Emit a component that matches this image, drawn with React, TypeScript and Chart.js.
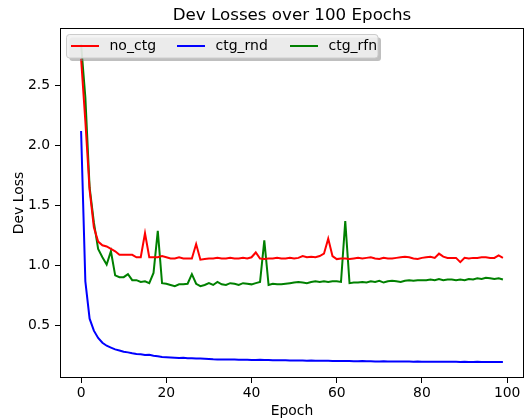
import React, { useEffect, useRef } from "react";
import { Chart, registerables } from "chart.js";

Chart.register(...registerables);

const epochs: number[] = Array.from({ length: 100 }, (_, i) => i);

const noCtg: number[] = [
  2.72, 2.2, 1.63, 1.32, 1.2, 1.17, 1.16, 1.14, 1.12, 1.09,
  1.09, 1.09, 1.09, 1.07, 1.07, 1.27, 1.07, 1.07, 1.07, 1.08,
  1.07, 1.06, 1.06, 1.07, 1.06, 1.06, 1.06, 1.18, 1.05, 1.055,
  1.06, 1.06, 1.065, 1.06, 1.06, 1.065, 1.06, 1.06, 1.065, 1.06,
  1.07, 1.11, 1.06, 1.055, 1.06, 1.06, 1.065, 1.06, 1.06, 1.065,
  1.06, 1.065, 1.08, 1.07, 1.075, 1.07, 1.08, 1.1, 1.225, 1.08,
  1.055, 1.06, 1.06, 1.055, 1.06, 1.065, 1.06, 1.065, 1.07, 1.06,
  1.055, 1.065, 1.06, 1.06, 1.065, 1.07, 1.075, 1.07, 1.06, 1.055,
  1.065, 1.07, 1.075, 1.065, 1.1, 1.075, 1.065, 1.065, 1.065, 1.03,
  1.065, 1.06, 1.065, 1.065, 1.07, 1.07, 1.065, 1.065, 1.085, 1.065,
];

const ctgRnd: number[] = [
  2.12, 0.87, 0.56, 0.46, 0.4, 0.36, 0.335, 0.32, 0.305, 0.295,
  0.285, 0.28, 0.272, 0.266, 0.264, 0.258, 0.26, 0.252, 0.248, 0.242,
  0.24, 0.238, 0.236, 0.234, 0.235, 0.232, 0.231, 0.229, 0.229, 0.227,
  0.225, 0.222, 0.221, 0.221, 0.22, 0.221, 0.22, 0.219, 0.218, 0.218,
  0.217, 0.216, 0.219, 0.217, 0.216, 0.215, 0.215, 0.214, 0.214, 0.213,
  0.213, 0.212, 0.212, 0.211, 0.212, 0.211, 0.21, 0.21, 0.21, 0.209,
  0.209, 0.208, 0.208, 0.209, 0.207, 0.207, 0.209, 0.207, 0.206, 0.205,
  0.205, 0.206, 0.205, 0.205, 0.204, 0.205, 0.204, 0.204, 0.203, 0.204,
  0.203, 0.203, 0.202, 0.203, 0.202, 0.202, 0.201, 0.202, 0.201, 0.2,
  0.201, 0.2, 0.2, 0.201, 0.2, 0.199, 0.2, 0.199, 0.199, 0.2,
];

const ctgRfn: number[] = [
  2.84, 2.4, 1.65, 1.36, 1.14, 1.07, 1.01, 1.12, 0.92, 0.905,
  0.905, 0.93, 0.88, 0.88, 0.865, 0.87, 0.855, 0.94, 1.29, 0.855,
  0.85, 0.84, 0.83, 0.845, 0.845, 0.85, 0.93, 0.85, 0.83, 0.84,
  0.855, 0.84, 0.865, 0.845, 0.84, 0.855, 0.85, 0.84, 0.855, 0.85,
  0.845, 0.855, 0.865, 1.21, 0.84, 0.85, 0.845, 0.845, 0.85, 0.855,
  0.86, 0.865, 0.86, 0.855, 0.865, 0.87, 0.865, 0.87, 0.865, 0.87,
  0.87, 0.865, 1.37, 0.855, 0.86, 0.86, 0.865, 0.86, 0.87, 0.865,
  0.875, 0.86, 0.87, 0.875, 0.87, 0.865, 0.875, 0.88, 0.875, 0.88,
  0.88, 0.88, 0.885, 0.88, 0.89, 0.88, 0.885, 0.885, 0.88, 0.885,
  0.88, 0.89, 0.885, 0.895, 0.89, 0.9, 0.895, 0.89, 0.895, 0.885,
];

const seriesNames: string[] = ["no_ctg", "ctg_rnd", "ctg_rfn"];
const seriesColors: string[] = ["#ff0000", "#0000ff", "#008000"];
const xTicks: number[] = [0, 20, 40, 60, 80, 100];
const yTicks: number[] = [0.5, 1.0, 1.5, 2.0, 2.5];
const titleText = "Dev Losses over 100 Epochs";
const xLabel = "Epoch";
const yLabel = "Dev Loss";

const FONT = "'DejaVu Sans', sans-serif";

function roundRect(ctx: CanvasRenderingContext2D, x: number, y: number, w: number, h: number, r: number) {
  ctx.beginPath();
  ctx.moveTo(x + r, y);
  ctx.lineTo(x + w - r, y);
  ctx.quadraticCurveTo(x + w, y, x + w, y + r);
  ctx.lineTo(x + w, y + h - r);
  ctx.quadraticCurveTo(x + w, y + h, x + w - r, y + h);
  ctx.lineTo(x + r, y + h);
  ctx.quadraticCurveTo(x, y + h, x, y + h - r);
  ctx.lineTo(x, y + r);
  ctx.quadraticCurveTo(x, y, x + r, y);
  ctx.closePath();
}

const decor = {
  id: "decor",
  beforeDraw(chart: any) {
    const ctx = chart.ctx as CanvasRenderingContext2D;
    ctx.save();
    ctx.fillStyle = "#ffffff";
    ctx.fillRect(0, 0, chart.width, chart.height);
    ctx.restore();
  },
  afterDatasetsDraw(chart: any) {
    const ctx = chart.ctx as CanvasRenderingContext2D;
    const a = chart.chartArea;
    ctx.save();
    // spines
    ctx.strokeStyle = "#000000";
    ctx.lineWidth = 1;
    ctx.strokeRect(Math.round(a.left) + 0.5, Math.round(a.top) + 0.5, Math.round(a.right - a.left) - 1, Math.round(a.bottom - a.top) - 1);

    // legend
    const lx = a.left + 6.5;
    const ly = a.top + 6.5;
    const lw = 311.5;
    const lh = 23.5;
    ctx.fillStyle = "rgba(128,128,128,0.5)";
    roundRect(ctx, lx + 3, ly + 3, lw, lh, 3);
    ctx.fill();
    ctx.fillStyle = "rgba(242,242,242,0.86)";
    roundRect(ctx, lx, ly, lw, lh, 3);
    ctx.fill();
    ctx.strokeStyle = "#cccccc";
    ctx.lineWidth = 1;
    ctx.stroke();

    const cy = ly + 11.5;
    const lineStarts = [lx + 4.5, lx + 110.5, lx + 223.5];
    ctx.font = `14px ${FONT}`;
    ctx.textBaseline = "middle";
    ctx.textAlign = "left";
    seriesNames.forEach((name, i) => {
      ctx.strokeStyle = seriesColors[i];
      ctx.lineWidth = 2;
      ctx.beginPath();
      ctx.moveTo(lineStarts[i], cy);
      ctx.lineTo(lineStarts[i] + 28, cy);
      ctx.stroke();
      ctx.fillStyle = "#000000";
      ctx.fillText(name, lineStarts[i] + 38.5, cy + 0.5);
    });

    // title
    const cx = (a.left + a.right) / 2;
    ctx.fillStyle = "#000000";
    ctx.textAlign = "center";
    ctx.textBaseline = "alphabetic";
    ctx.font = `16.7px ${FONT}`;
    ctx.fillText(titleText, cx, a.top - 8);

    // axis labels
    ctx.font = `13.9px ${FONT}`;
    ctx.fillText(xLabel, cx, chart.height - 4);
    ctx.save();
    ctx.translate(23, (a.top + a.bottom) / 2);
    ctx.rotate(-Math.PI / 2);
    ctx.fillText(yLabel, 0, 0);
    ctx.restore();
    ctx.restore();
  },
};

export default function App() {
  const ref = useRef<HTMLCanvasElement | null>(null);

  useEffect(() => {
    document.body.style.margin = "0";
    const canvas = ref.current;
    if (!canvas) return;
    const values = [noCtg, ctgRnd, ctgRfn];
    const chart = new Chart(canvas, {
      type: "line",
      data: {
        datasets: seriesNames.map((name, i) => ({
          label: name,
          data: values[i].map((v, j) => ({ x: epochs[j], y: v })),
          borderColor: seriesColors[i],
          backgroundColor: seriesColors[i],
          borderWidth: 2,
          pointRadius: 0,
          tension: 0,
          fill: false,
        })),
      },
      options: {
        animation: false,
        responsive: false,
        devicePixelRatio: 1,
        layout: { padding: { top: 28, right: 1, left: 0, bottom: 0 } },
        plugins: {
          legend: { display: false },
          title: { display: false },
          tooltip: { enabled: false },
        },
        scales: {
          x: {
            type: "linear",
            min: -4.95,
            max: 103.95,
            afterBuildTicks: (scale: any) => {
              scale.ticks = xTicks.map((v) => ({ value: v }));
            },
            afterFit: (scale: any) => {
              scale.height = 41;
            },
            border: { display: false },
            grid: { drawOnChartArea: false, drawTicks: true, tickLength: 5, color: "#000000", lineWidth: 1 },
            ticks: {
              color: "#000000",
              font: { family: FONT, size: 13.9 },
              padding: 2,
              maxRotation: 0,
              autoSkip: false,
              callback: (v: any) => String(v),
            },
          },
          y: {
            type: "linear",
            min: 0.067,
            max: 2.975,
            afterBuildTicks: (scale: any) => {
              scale.ticks = yTicks.map((v) => ({ value: v }));
            },
            afterFit: (scale: any) => {
              scale.width = 60;
            },
            border: { display: false },
            grid: { drawOnChartArea: false, drawTicks: true, tickLength: 5, color: "#000000", lineWidth: 1 },
            ticks: {
              color: "#000000",
              font: { family: FONT, size: 13.9 },
              padding: 5,
              autoSkip: false,
              callback: (v: any) => Number(v).toFixed(1),
            },
          },
        },
      },
      plugins: [decor],
    });
    return () => chart.destroy();
  }, []);

  return (
    <div style={{ position: "absolute", left: 0, top: 0, width: 525, height: 419 }}>
      <canvas ref={ref} width={525} height={419} style={{ width: 525, height: 419, display: "block" }} />
    </div>
  );
}
